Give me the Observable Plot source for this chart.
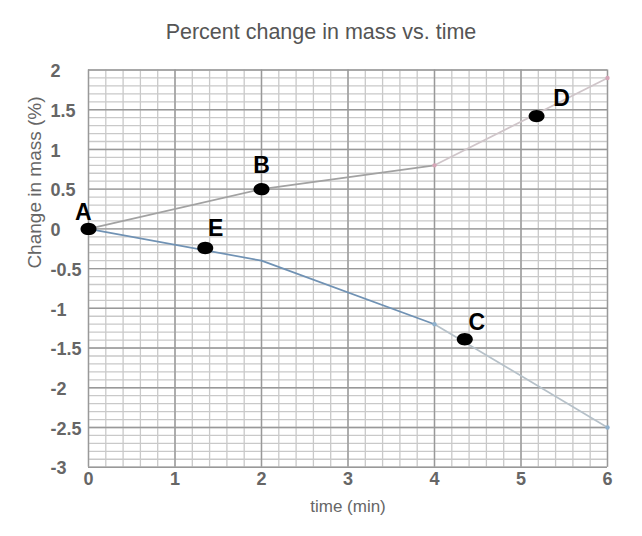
<!DOCTYPE html>
<html><head><meta charset="utf-8">
<script src="https://cdn.jsdelivr.net/npm/d3@7"></script>
<script src="https://cdn.jsdelivr.net/npm/@observablehq/plot@0.6"></script>
<style>
body{margin:0;background:#fff;font-family:"Liberation Sans",Arial,sans-serif}
#wrap{position:relative;width:642px;height:536px;overflow:hidden}
#wrap svg{position:absolute;left:0;top:0}
#title{position:absolute;left:0;width:642px;top:22px;text-align:center;font-size:21.5px;line-height:21.5px;color:#555;z-index:2}
</style></head>
<body><div id="wrap"><div id="title">Percent change in mass vs. time</div></div>
<script>
// ---- data ----
const times = [0, 2, 4, 6];
const gainPct = [0, 0.5, 0.8, 1.9];
const lossPct = [0, -0.4, -1.2, -2.5];

const pointNames = ["A", "B", "C", "D", "E"];
const pointTime = [0, 2, 4.35, 5.18, 1.35];
const pointPct = [0, 0.5, -1.39, 1.42, -0.24];
const nameTime = [-0.06, 2.0, 4.49, 5.47, 1.47];
const namePct = [0.2, 0.79, -1.18, 1.64, 0.0];

const xTicks = [0, 1, 2, 3, 4, 5, 6];
const yTicks = [2, 1.5, 1, 0.5, 0, -0.5, -1, -1.5, -2, -2.5, -3];
const xMinor = d3.range(0, 31).map(i => i / 5);
const yMinor = d3.range(-30, 21).map(i => i / 10);

// ---- tables ----
const seriesRows = (vals, name) => times.map((t, i) => ({t, v: vals[i], name, i}));
const gainRows = seriesRows(gainPct, "gain");
const lossRows = seriesRows(lossPct, "loss");
const early = rows => rows.filter(d => d.i <= 2);
const late = rows => rows.filter(d => d.i >= 2);
const points = pointNames.map((n, i) => ({n, t: pointTime[i], v: pointPct[i], lt: nameTime[i], lv: namePct[i]}));

const ellipse = {
  draw(ctx) {
    const rx = 8, ry = 6.2, k = 0.5523;
    ctx.moveTo(rx, 0);
    ctx.bezierCurveTo(rx, ry * k, rx * k, ry, 0, ry);
    ctx.bezierCurveTo(-rx * k, ry, -rx, ry * k, -rx, 0);
    ctx.bezierCurveTo(-rx, -ry * k, -rx * k, -ry, 0, -ry);
    ctx.bezierCurveTo(rx * k, -ry, rx, -ry * k, rx, 0);
    ctx.closePath();
  }
};

const tickStyle = {fontSize: 18, fontWeight: "bold", fill: "#666"};

const chart = Plot.plot({
  width: 642,
  height: 536,
  marginTop: 69.5,
  marginBottom: 69.3,
  marginLeft: 88,
  marginRight: 35,
  style: {fontFamily: "Liberation Sans, Arial, sans-serif", background: "transparent"},
  x: {domain: [0, 6], axis: null},
  y: {domain: [-3, 2], axis: null},
  marks: [
    Plot.ruleX(xMinor, {x: d => d, stroke: "#c9c9c9", strokeWidth: 1.3}),
    Plot.ruleY(yMinor, {y: d => d, stroke: "#c9c9c9", strokeWidth: 1.3}),
    Plot.ruleX(xTicks, {x: d => d, stroke: "#999", strokeWidth: 1.4}),
    Plot.ruleY(yTicks, {y: d => d, stroke: "#999", strokeWidth: 1.4}),
    Plot.line(early(gainRows), {x: "t", y: "v", stroke: "#a2a2a2", strokeWidth: 1.7}),
    Plot.line(late(gainRows), {x: "t", y: "v", stroke: "#cfc5c9", strokeWidth: 1.7}),
    Plot.line(early(lossRows), {x: "t", y: "v", stroke: "#7092b4", strokeWidth: 1.7}),
    Plot.line(late(lossRows), {x: "t", y: "v", stroke: "#b6c1c9", strokeWidth: 1.7}),
    Plot.dot(gainRows.filter(d => d.i >= 2), {x: "t", y: "v", r: 2.2, fill: "#d6a6b8"}),
    Plot.dot(lossRows.filter(d => d.i >= 2), {x: "t", y: "v", r: 2.2, fill: "#8fb0cc"}),
    Plot.dot(points, {x: "t", y: "v", r: 6, fill: "black", symbol: ellipse}),
    Plot.text(points, {x: "lt", y: "lv", text: "n", fontSize: 23, fontWeight: "bold", fill: "black"}),
    Plot.text(yTicks, {y: d => d, text: d => String(d), frameAnchor: "left", dx: -38, dy: 1.5, textAnchor: "start", ...tickStyle}),
    Plot.text(xTicks, {x: d => d, text: d => String(d), frameAnchor: "bottom", dy: 17.5, ...tickStyle}),
    Plot.text(["time (min)"], {text: d => d, frameAnchor: "bottom", dy: 45, fontSize: 17, fill: "#666"}),
    Plot.text(["Change in mass (%)"], {text: d => d, frameAnchor: "left", dx: -54, rotate: -90, fontSize: 19, fill: "#666"})
  ]
});
document.getElementById("wrap").appendChild(chart);
</script>
</body></html>
